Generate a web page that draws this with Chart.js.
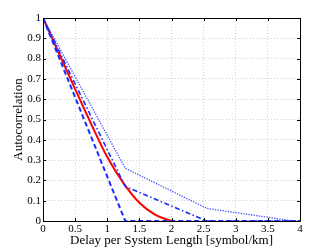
<!DOCTYPE html>
<html><head><meta charset="utf-8">
<script src="https://cdn.jsdelivr.net/npm/chart.js@4/dist/chart.umd.min.js"></script>
<style>html,body{margin:0;padding:0;background:#fff}#w{width:332px;height:249px}</style>
</head><body><div id="w"><canvas id="c"></canvas></div>
<script>
const xTicks = [0, 0.5, 1, 1.5, 2, 2.5, 3, 3.5, 4];
const yTicks = [0, 0.1, 0.2, 0.3, 0.4, 0.5, 0.6, 0.7, 0.8, 0.9, 1];

const dashedX = [0, 1.28, 4];
const dashedY = [1, 0, 0];

const redX = [0, 0.25, 0.5, 0.75, 1.0, 1.25, 1.5, 1.75, 2.0];
const redY = [1, 0.825, 0.65, 0.478, 0.315, 0.188, 0.09, 0.03, 0];

const dashDotX = [0, 1.28, 2.55, 4];
const dashDotY = [1, 0.17, 0, 0];

const dottedX = [0, 1.28, 2.55, 3.9, 4];
const dottedY = [1, 0.26, 0.062, 0, 0];

const xTitle = 'Delay per System Length [symbol/km]';
const yTitle = 'Autocorrelation';

const pts = (xs, ys) => xs.map((x, i) => ({x: x, y: ys[i]}));
const serif = "'Liberation Serif', 'DejaVu Serif', serif";

const boxPlugin = {
  id: 'box',
  afterDatasetsDraw(chart) {
    const {ctx, chartArea: a, scales} = chart;
    ctx.save();
    ctx.strokeStyle = '#000';
    ctx.lineWidth = 1;
    ctx.beginPath();
    ctx.rect(Math.round(a.left) + 0.5, Math.round(a.top) + 0.5, Math.round(a.right - a.left), Math.round(a.bottom - a.top));
    ctx.stroke();
    const t = 3;
    ctx.beginPath();
    xTicks.forEach(v => {
      const px = Math.round(scales.x.getPixelForValue(v)) + 0.5;
      ctx.moveTo(px, a.bottom); ctx.lineTo(px, a.bottom - t);
      ctx.moveTo(px, a.top); ctx.lineTo(px, a.top + t);
    });
    yTicks.forEach(v => {
      const py = Math.round(scales.y.getPixelForValue(v)) + 0.5;
      ctx.moveTo(a.left, py); ctx.lineTo(a.left + t, py);
      ctx.moveTo(a.right, py); ctx.lineTo(a.right - t, py);
    });
    ctx.stroke();
    ctx.restore();
  }
};

new Chart(document.getElementById('c'), {
  type: 'line',
  data: {
    datasets: [
      {data: pts(dottedX, dottedY), borderColor: 'rgba(30,50,255,0.85)', borderWidth: 1.3, borderDash: [1.3, 1.3], pointRadius: 0, tension: 0},
      {data: pts(dashDotX, dashDotY), borderColor: '#1a2cff', borderWidth: 1.6, borderDash: [5, 2.5, 1.5, 2.5], pointRadius: 0, tension: 0},
      {data: pts(dashedX, dashedY), borderColor: '#1a2cff', borderWidth: 2, borderDash: [5, 3], pointRadius: 0, tension: 0},
      {data: pts(redX, redY), borderColor: '#ff0000', borderWidth: 2, pointRadius: 0, cubicInterpolationMode: 'monotone'}
    ]
  },
  options: {
    responsive: true, maintainAspectRatio: false, animation: false,
    layout: {padding: {top: 18, right: 32, left: 0, bottom: 0}},
    plugins: {legend: {display: false}, tooltip: {enabled: false}},
    scales: {
      x: {
        type: 'linear', min: 0, max: 4,
        afterBuildTicks: s => { s.ticks = xTicks.map(v => ({value: v})); },
        afterFit: s => { s.height = 28; },
        grid: {color: '#cfcfcf', drawTicks: false, lineWidth: 1},
        border: {display: false, dash: [1, 2]},
        ticks: {color: '#000', padding: 2, font: {family: serif, size: 11}, callback: v => String(v), maxRotation: 0},
        title: {display: true, text: xTitle, color: '#000', font: {family: serif, size: 13}, padding: {top: 0, bottom: 1}}
      },
      y: {
        type: 'linear', min: 0, max: 1,
        afterBuildTicks: s => { s.ticks = yTicks.map(v => ({value: v})); },
        afterFit: s => { s.width = 43; },
        grid: {color: '#cfcfcf', drawTicks: false, lineWidth: 1},
        border: {display: false, dash: [1, 2]},
        ticks: {color: '#000', padding: 2, font: {family: serif, size: 11}, callback: v => String(v)},
        title: {display: true, text: yTitle, color: '#000', font: {family: serif, size: 13}, padding: {top: 11, bottom: 0}}
      }
    }
  },
  plugins: [boxPlugin]
});
</script></body></html>
